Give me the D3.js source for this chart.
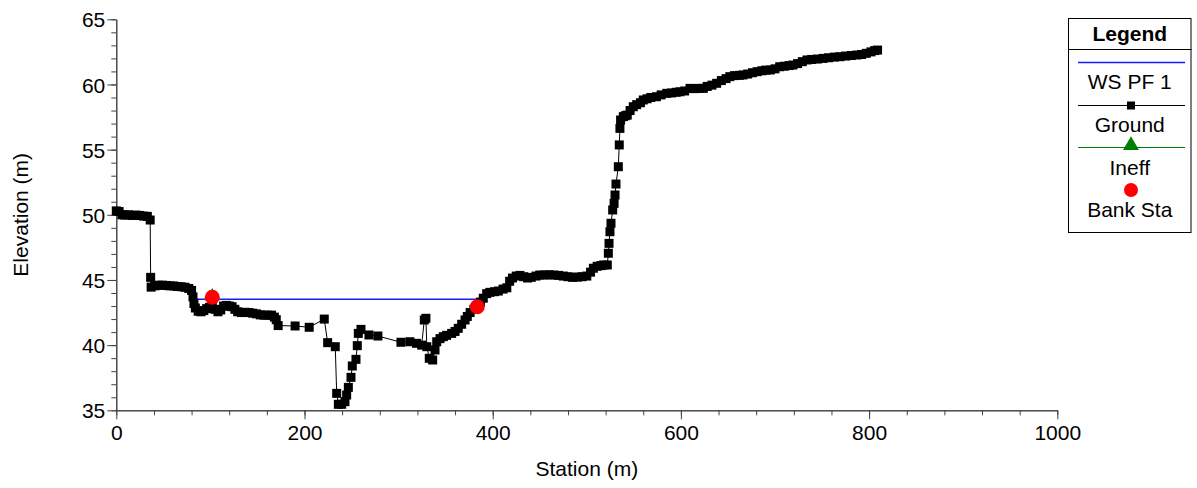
<!DOCTYPE html>
<html><head><meta charset="utf-8">
<script src="https://cdn.jsdelivr.net/npm/d3@7"></script>
<style>
html,body{margin:0;padding:0;background:#fff;}
svg{display:block;font-family:"Liberation Sans",Arial,sans-serif;}
</style></head>
<body><svg id="c" width="1197" height="488"></svg>
<script>
// ---- data ----
const groundStation = [0,3,6,9,13,17,21,25,29,33,36,36.5,37,41,45,49,53,57,61,65,69,73,77,80,81.5,82.5,84,87,90,93,96,99,102,105,108,111,114,117,120,123,126,129,133,137,141,145,149,153,157,161,165,168,170,172,
190,205,221,224.6,232.7,234.2,236,239.5,243,244.8,246.6,249.4,250.8,254.7,256.1,257.2,260,268.5,278,302.5,312,319,324.5,327.3,329,330,332.6,336.2,338.7,340.5,
344,347.5,351,356.4,360,363.4,367,370.6,373,376,380,383.6,387,390,393.6,397,402,406,411,415,418,421,425,429,433,437,441,446,450,455,460,465,470,475,480,485,490,495,500,504,507,511,515,518,521.8,
522.9,523.6,524.6,525.7,527.5,529,530,531,533.5,534.5,535.2,535.9,538.8,541,543,546,549.4,553,557,560,564,568,574,579,585,590,595,599,604,609.7,614,619,623.8,628,633,638,643,648,652,657,662,666,671,676,681,686,690,695,700,705,710,715,719,724,729,734,739,745,751,757,763,769,775,781,787,792,797,802,806,809];
const groundElev = [50.3,50.25,50.0,49.98,50.0,49.95,49.98,49.95,49.9,49.88,49.6,45.2,44.45,44.55,44.6,44.6,44.58,44.55,44.54,44.5,44.48,44.44,44.35,44.2,43.7,43.2,42.85,42.6,42.56,42.65,42.8,42.9,42.95,42.75,42.56,42.7,43.0,43.05,43.0,42.95,42.75,42.56,42.5,42.52,42.5,42.45,42.4,42.32,42.3,42.3,42.3,42.15,41.95,41.5,
41.47,41.37,42.0,40.19,39.88,36.3,35.46,35.46,35.66,36.17,36.76,37.53,38.4,38.91,39.96,40.9,41.21,40.78,40.7,40.22,40.26,40.14,40.0,41.93,42.06,39.88,38.99,38.86,39.63,40.26,
40.5,40.65,40.75,40.9,41.05,41.29,41.6,41.93,42.2,42.5,42.75,42.95,43.3,43.6,43.95,44.05,44.1,44.15,44.3,44.4,44.9,45.15,45.3,45.35,45.25,45.15,45.2,45.3,45.38,45.38,45.4,45.38,45.35,45.3,45.25,45.2,45.22,45.25,45.3,45.6,45.9,46.05,46.1,46.15,46.15,
47.05,47.81,48.7,49.35,50.37,50.88,51.52,52.36,53.69,55.36,56.63,57.27,57.53,57.6,57.65,58.0,58.29,58.45,58.6,58.81,58.9,59.0,59.06,59.2,59.32,59.35,59.4,59.44,59.5,59.7,59.68,59.7,59.7,59.85,59.95,60.09,60.3,60.45,60.6,60.68,60.7,60.73,60.8,60.9,60.98,61.05,61.1,61.11,61.2,61.36,61.4,61.45,61.49,61.6,61.75,61.88,61.92,61.95,62.0,62.05,62.1,62.13,62.18,62.22,62.26,62.3,62.39,62.5,62.6,62.64];
const wsStation = [82.6, 390];
const wsElev = [43.52, 43.52];
const ineffStation = [102];
const ineffElev = [43.75];
const bankStation = [102, 383.6];
const bankElev = [43.67, 42.95];
const xMajorTicks = [0,200,400,600,800,1000];
const yMajorTicks = [35,40,45,50,55,60,65];
const legendLabels = ["WS PF 1","Ground","Ineff","Bank Sta"];

// ---- drawing ----
const svg = d3.select("#c");
const x = d3.scaleLinear().domain([0,1000]).range([116.3,1057.3]);
const y = d3.scaleLinear().domain([35,65]).range([410.3,19.3]);
const axisCol = "#404040";

const xMinor = d3.range(0,1001,40);
const yMinor = d3.range(35,65.01,1);

function styleAxis(g){
  g.selectAll("path,line").attr("stroke",axisCol).attr("stroke-width",1);
  g.selectAll("text").attr("fill","#000").style("font-size","21px").style("font-family",'"Liberation Sans",Arial,sans-serif');
}
const gx = svg.append("g").attr("transform",`translate(0,${y(35)})`);
gx.append("g").call(d3.axisBottom(x).tickValues(xMinor).tickSize(5).tickFormat("").tickSizeOuter(0)).call(styleAxis);
gx.append("g").call(d3.axisBottom(x).tickValues(xMajorTicks).tickSize(9).tickPadding(6).tickFormat(d3.format("d")).tickSizeOuter(0)).call(styleAxis);
const gy = svg.append("g").attr("transform",`translate(${x(0)},0)`);
gy.append("g").call(d3.axisLeft(y).tickValues(yMinor).tickSize(5).tickFormat("").tickSizeOuter(0)).call(styleAxis);
gy.append("g").call(d3.axisLeft(y).tickValues(yMajorTicks).tickSize(9).tickPadding(2).tickFormat(d3.format("d")).tickSizeOuter(0)).call(styleAxis);
gy.selectAll("text").attr("dy","0.36em");

svg.append("text").attr("x",(x(0)+x(1000))/2).attr("y",476).attr("text-anchor","middle")
  .style("font-size","21px").text("Station (m)");
svg.append("text").attr("transform",`translate(28,${(y(35)+y(65))/2}) rotate(-90)`).attr("text-anchor","middle")
  .style("font-size","21px").text("Elevation (m)");

// water surface
const ws = d3.zip(wsStation, wsElev);
svg.append("path").datum(ws).attr("d",d3.line().x(d=>x(d[0])).y(d=>y(d[1])))
  .attr("fill","none").attr("stroke","#1a1aff").attr("stroke-width",1.3);

// ground
const ground = d3.zip(groundStation, groundElev);
svg.append("path").datum(ground).attr("d",d3.line().x(d=>x(d[0])).y(d=>y(d[1])))
  .attr("fill","none").attr("stroke","#000").attr("stroke-width",1);
const ms = 9;
svg.append("g").selectAll("rect").data(ground).join("rect")
  .attr("x",d=>x(d[0])-ms/2).attr("y",d=>y(d[1])-ms/2).attr("width",ms).attr("height",ms).attr("fill","#000");

// ineff
const tri = d3.symbol().type(d3.symbolTriangle).size(90);
svg.append("g").selectAll("path").data(d3.zip(ineffStation,ineffElev)).join("path")
  .attr("transform",d=>`translate(${x(d[0])},${y(d[1])})`).attr("d",tri()).attr("fill","#008000");

// bank stations
svg.append("g").selectAll("circle").data(d3.zip(bankStation,bankElev)).join("circle")
  .attr("cx",d=>x(d[0])).attr("cy",d=>y(d[1])).attr("r",7.5).attr("fill","#ff0000");

// legend
const L = {x:1068, y:18, w:122.5, h:214};
const lg = svg.append("g");
lg.append("rect").attr("x",L.x+0.5).attr("y",L.y+0.5).attr("width",L.w).attr("height",L.h)
  .attr("fill","#fff").attr("stroke","#000").attr("stroke-width",1);
lg.append("line").attr("x1",L.x).attr("x2",L.x+L.w+1).attr("y1",49.5).attr("y2",49.5).attr("stroke","#000");
const cx = L.x + L.w/2 + 0.5;
lg.append("text").attr("x",cx).attr("y",33).attr("dy","0.36em").attr("text-anchor","middle")
  .style("font-size","21px").style("font-weight","bold").text("Legend");
const textY = [81,124,167,209];
legendLabels.forEach((t,i)=>{
  lg.append("text").attr("x",cx).attr("y",textY[i]).attr("dy","0.36em").attr("text-anchor","middle")
    .style("font-size","21px").text(t);
});
lg.append("line").attr("x1",1078).attr("x2",1185).attr("y1",62.5).attr("y2",62.5).attr("stroke","#1a1aff").attr("stroke-width",1.3);
lg.append("line").attr("x1",1078).attr("x2",1185).attr("y1",105.5).attr("y2",105.5).attr("stroke","#000");
lg.append("rect").attr("x",1131-4).attr("y",105.5-4).attr("width",8).attr("height",8).attr("fill","#000");
lg.append("line").attr("x1",1078).attr("x2",1185).attr("y1",147.5).attr("y2",147.5).attr("stroke","#008000");
lg.append("path").attr("transform","translate(1131,145.5)").attr("d",d3.symbol().type(d3.symbolTriangle).size(110)()).attr("fill","#008000");
lg.append("circle").attr("cx",1131).attr("cy",190).attr("r",7).attr("fill","#ff0000");
</script></body></html>
